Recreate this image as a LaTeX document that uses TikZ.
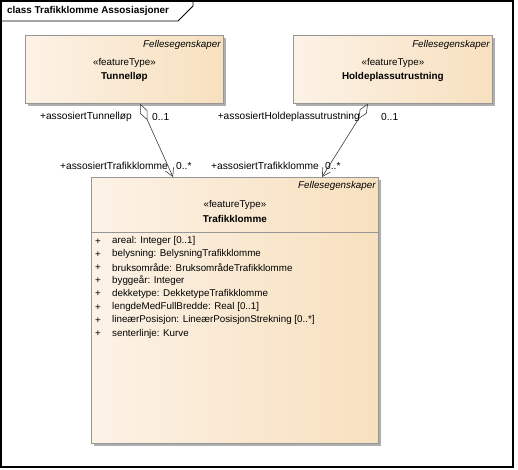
\documentclass[tikz,border=0pt]{standalone}
\usepackage{fontspec}
\setmainfont{Liberation Sans}
\usetikzlibrary{arrows.meta,shadows,calc}
\definecolor{boxL}{RGB}{252,242,230}
\definecolor{boxR}{RGB}{247,224,190}
\definecolor{boxBorder}{RGB}{150,150,150}
\definecolor{shadowC}{RGB}{175,175,175}
\definecolor{lineC}{RGB}{60,60,60}
\tikzset{
  umlbox/.style={draw=boxBorder, line width=0.8pt, left color=boxL, right color=boxR,
    general shadow={fill=shadowC, shadow xshift=3pt, shadow yshift=-3pt},
    anchor=north west, inner sep=0pt},
  txt/.style={font=\fontsize{9.8}{12}\selectfont, inner sep=0pt},
  rtxt/.style={font=\fontsize{10.2}{12}\selectfont, inner sep=0pt},
  btxt/.style={font=\fontsize{9.9}{12}\selectfont\bfseries, inner sep=0pt},
  itxt/.style={font=\fontsize{9.8}{12}\selectfont\itshape, inner sep=0pt, anchor=east},
  assoc/.style={draw=lineC, line width=0.6pt,
    {Diamond[open, fill=white, length=18pt, width=8pt]}-{Straight Barb[length=8pt, width=9pt]}},
}
\begin{document}
\begin{tikzpicture}[x=1pt, y=-1pt]
\useasboundingbox (0,0) rectangle (518,469);
% frame
\draw[line width=1.2pt] (1,1) rectangle (513,467);
\draw[line width=0.8pt] (1,21) -- (178,21) -- (193,6) -- (193,1);
\node[btxt, anchor=west] (title) at (7,11) {class Trafikklomme Assosiasjoner};

% boxes
\node[umlbox, minimum width=198pt, minimum height=68pt] (tun) at (25,35) {};
\node[umlbox, minimum width=199pt, minimum height=68pt] (hold) at (293,35) {};
\node[umlbox, minimum width=287pt, minimum height=266pt] (traf) at (91,177) {};

% Tunnelløp texts
\node[itxt] (tunF) at ($(tun.north east)+(-3,10)$) {Fellesegenskaper};
\node[txt] (tunS) at ($(tun.north)+(0,28)$) {«featureType»};
\node[btxt] (tunN) at ($(tun.north)+(0,42)$) {Tunnelløp};

% Holdeplassutrustning texts
\node[itxt] (holdF) at ($(hold.north east)+(-3,10)$) {Fellesegenskaper};
\node[txt] (holdS) at ($(hold.north)+(0,28)$) {«featureType»};
\node[btxt] (holdN) at ($(hold.north)+(0,42)$) {Holdeplassutrustning};

% Trafikklomme texts
\node[itxt] (trafF) at ($(traf.north east)+(-3,9)$) {Fellesegenskaper};
\node[txt] (trafS) at ($(traf.north)+(0,28)$) {«featureType»};
\node[btxt] (trafN) at ($(traf.north)+(0,42)$) {Trafikklomme};
\draw[draw=boxBorder, line width=0.8pt] ($(traf.north west)+(0,55)$) coordinate (sepL) -- ($(traf.north east)+(0,55)$) coordinate (sepR);

\foreach \i/\t in {1/{areal: Integer [0..1]},
                   2/{belysning: BelysningTrafikklomme},
                   3/{bruksområde: BruksområdeTrafikklomme},
                   4/{byggeår: Integer},
                   5/{dekketype: DekketypeTrafikklomme},
                   6/{lengdeMedFullBredde: Real [0..1]},
                   7/{lineærPosisjon: LineærPosisjonStrekning [0..*]},
                   8/{senterlinje: Kurve}} {
  \node[txt, anchor=center] (plus\i) at (98, {228+13.2*\i}) {+};
  \node[txt, anchor=west] (attr\i) at (112, {228+13.2*\i}) {\t};
}

% connectors
\draw[assoc] ($(tun.south west)+(115,0)$) coordinate (tunA) -- ($(traf.north west)+(82,0)$) coordinate (trafA);
\draw[assoc] ($(hold.south west)+(75,0)$) coordinate (holdA) -- ($(traf.north west)+(231,0)$) coordinate (trafB);

% role labels
\node[rtxt, anchor=east] (rTun) at (132,117) {+assosiertTunnelløp};
\node[rtxt, anchor=west] (mTun) at (152,117) {0..1};
\node[rtxt, anchor=east] (rHold) at (360,117) {+assosiertHoldeplassutrustning};
\node[rtxt, anchor=west] (mHold) at (381,117) {0..1};
\node[rtxt, anchor=east] (rTraf1) at (168,166) {+assosiertTrafikklomme};
\node[rtxt, anchor=west] (mTraf1) at (176,166) {0..*};
\node[rtxt, anchor=east] (rTraf2) at (319,166) {+assosiertTrafikklomme};
\node[rtxt, anchor=west] (mTraf2) at (325,166) {0..*};
\end{tikzpicture}
\end{document}
